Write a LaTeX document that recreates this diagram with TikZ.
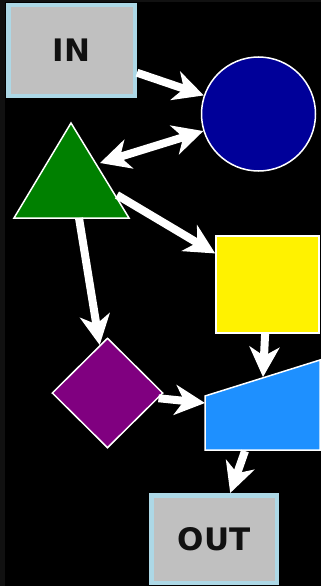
\documentclass[tikz,border=0pt]{standalone}
\usepackage{fontspec}
\setmainfont{DejaVu Sans}
\usetikzlibrary{arrows.meta,shapes.geometric}
\definecolor{bgstrip}{HTML}{111111}
\definecolor{navyblue}{HTML}{000099}
\definecolor{darkgreen}{HTML}{008000}
\definecolor{purp}{HTML}{800080}
\definecolor{dodger}{HTML}{1E90FF}
\definecolor{silverg}{HTML}{C0C0C0}
\definecolor{lblue}{HTML}{ADD8E6}
\definecolor{txt}{HTML}{111111}
\tikzset{
  termbox/.style={rectangle, draw=lblue, fill=silverg, line width=4.5pt, inner sep=0pt, font=\bfseries\fontsize{31}{31}\selectfont, text=txt},
  shapeborder/.style={draw=white, line width=1.5pt},
  conn/.style={draw=white, line width=8pt, -{Stealth[length=30pt,width=30pt,inset=9pt]}},
  bconn/.style={draw=white, line width=8pt, {Stealth[length=30pt,width=30pt,inset=9pt]}-{Stealth[length=30pt,width=30pt,inset=9pt]}}
}
\begin{document}
\begin{tikzpicture}[x=1pt,y=-1pt]
\useasboundingbox (0,0) rectangle (321,586);
\fill[black] (0,0) rectangle (321,586);
\fill[bgstrip] (0,0) rectangle (5,586);
\fill[bgstrip] (0,0) rectangle (321,2);
% nodes
\node[termbox, minimum width=126.5pt, minimum height=90.5pt] (in) at (71.5,50.5) {IN};
\node[circle, shapeborder, fill=navyblue, minimum size=114pt, inner sep=0pt] (circ) at (258.5,114) {};
\node[rectangle, shapeborder, fill=yellow, minimum width=103pt, minimum height=97pt, inner sep=0pt] (sq) at (267.5,284.5) {};
\node[diamond, shapeborder, fill=purp, minimum width=111pt, minimum height=110pt, inner sep=0pt] (dia) at (107.5,393) {};
\node[termbox, minimum width=125.5pt, minimum height=87.5pt] (out) at (214,539) {OUT};
% triangle
\draw[shapeborder, fill=darkgreen] (71,123) -- (129,218) -- (14,218) -- cycle;
\coordinate (triR) at (100,163);
\coordinate (triB) at (117,195);
\coordinate (triD) at (79,218);
% trapezoid (manual input)
\draw[shapeborder, fill=dodger] (205,396) -- (320,360) -- (320,450) -- (205,450) -- cycle;
\coordinate (trTop) at (263,377);
\coordinate (trLeft) at (205,403);
\coordinate (trBot) at (245,451);
% connectors
\draw[conn] (in) -- (circ);
\draw[bconn] (triR) -- (circ);
\draw[conn] (triB) -- (sq);
\draw[conn] (triD) -- (dia);
\draw[conn] (sq) -- (trTop);
\draw[conn] (dia) -- (trLeft);
\draw[conn] (trBot) -- (out);
\end{tikzpicture}
\end{document}
